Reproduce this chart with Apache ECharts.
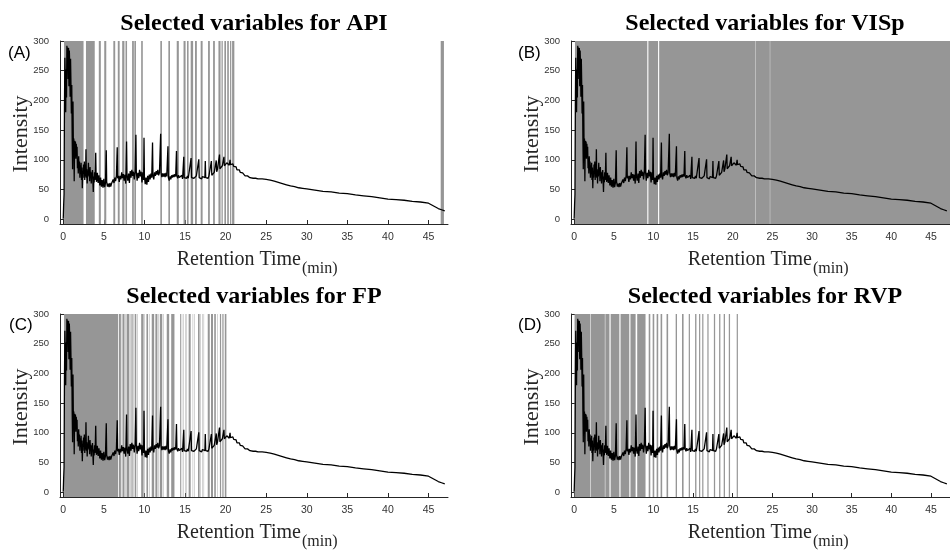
<!DOCTYPE html>
<html><head><meta charset="utf-8">
<script src="https://cdn.jsdelivr.net/npm/echarts@6/dist/echarts.min.js"></script>
<style>html,body{margin:0;padding:0;background:#fff}#c{width:950px;height:551px}</style>
</head><body><div id="c"></div>
<script>
const panelTitles = ['Selected variables for API','Selected variables for VISp','Selected variables for FP','Selected variables for RVP'];
const panelTags = ['(A)','(B)','(C)','(D)'];
const xAxisTitle = 'Retention Time';
const xAxisUnit = '(min)';
const yAxisTitle = 'Intensity';
const xTicks = [0,5,10,15,20,25,30,35,40,45];
const yTicks = [0,50,100,150,200,250,300];

// chromatogram [retention time (min), intensity]
const signal = [
[0,1],[0.05,24],[0.1,42],[0.15,190],[0.2,272],[0.25,228],[0.3,180],[0.35,252],[0.4,205],[0.45,292],[0.5,262],[0.55,289],[0.6,236],[0.65,288],[0.7,224],[0.75,284],[0.8,258],[0.85,206],[0.9,270],[0.95,228],
[1.0,178],[1.05,226],[1.1,138],[1.15,84],[1.2,198],[1.25,116],[1.3,136],[1.35,64],[1.4,132],[1.45,118],[1.5,131],[1.55,102],[1.6,127],[1.65,112],[1.7,122],[1.75,86],[1.8,101],[1.85,77],[1.9,106],[1.95,84],
[2.0,97],[2.05,70],[2.1,91],[2.15,76],[2.2,95],[2.25,66],[2.3,87],[2.35,52],[2.4,81],[2.45,70],[2.5,92],[2.55,76],[2.6,97],[2.65,66],[2.7,86],[2.75,72],[2.8,118],[2.85,70],[2.9,84],[2.95,60],
[3.0,80],[3.05,72],[3.1,95],[3.15,74],[3.2,86],[3.25,64],[3.3,88],[3.35,72],[3.4,80],[3.45,60],[3.5,78],[3.55,70],[3.6,83],[3.65,64],[3.7,46],[3.75,72],[3.8,62],[3.85,79],[3.9,66],[3.95,80],
[4.0,112],[4.05,70],[4.1,63],[4.2,78],[4.3,61],[4.4,74],[4.5,57],[4.6,70],[4.7,55],[4.8,66],[4.9,53],[5.0,68],[5.1,54],[5.2,61],[5.3,116],[5.35,63],[5.45,55],[5.55,60],[5.65,54],[5.75,61],[5.85,55],[5.95,60],
[6.05,57],[6.15,67],[6.25,61],[6.35,70],[6.45,64],[6.55,73],[6.65,121],[6.7,69],[6.8,73],[6.9,63],[7.0,73],[7.1,67],[7.2,79],[7.3,69],[7.4,76],[7.5,65],[7.6,75],[7.7,60],[7.8,131],[7.85,73],[7.95,65],
[8.05,77],[8.15,61],[8.25,81],[8.35,70],[8.45,83],[8.55,73],[8.65,80],[8.75,67],[8.85,79],[8.95,142],[9.0,80],[9.1,65],[9.2,78],[9.3,69],[9.4,83],[9.5,72],[9.6,80],[9.7,62],[9.8,79],[9.9,66],[9.95,137],
[10.0,72],[10.1,59],[10.2,70],[10.3,58],[10.4,73],[10.5,63],[10.6,75],[10.7,67],[10.8,77],[10.9,70],[11.0,129],[11.05,74],[11.15,67],[11.25,79],[11.35,73],[11.45,81],[11.55,75],[11.65,83],[11.75,74],[11.85,78],
[12.0,144],[12.05,78],[12.15,71],[12.25,77],[12.35,72],[12.45,77],[12.55,71],[12.65,78],[12.75,72],[12.85,75],[12.9,123],[12.95,70],[13.05,65],[13.15,72],[13.25,67],[13.35,74],[13.45,70],[13.55,75],[13.65,71],[13.75,76],[13.85,72],
[13.95,115],[14.0,73],[14.1,69],[14.2,74],[14.3,70],[14.4,73],[14.5,69],[14.6,74],[14.7,68],[14.85,105],[14.9,70],[15.0,67],[15.1,72],[15.2,69],[15.3,73],[15.4,69],[15.5,72],[15.6,70],[15.75,103],[15.8,70],[15.9,67],
[16.0,72],[16.1,69],[16.2,72],[16.3,69],[16.4,73],[16.5,70],[16.7,101],[16.75,70],[16.85,67],[16.95,71],[17.05,68],[17.15,72],[17.25,69],[17.35,73],[17.45,70],[17.5,98],[17.55,70],[17.65,67],[17.75,71],[17.85,69],[17.95,73],
[18.05,71],[18.15,75],[18.25,98],[18.3,74],[18.4,76],[18.5,74],[18.6,79],[18.7,77],[18.8,81],[18.85,99],[18.9,80],[19.0,84],[19.1,82],[19.2,86],[19.25,109],[19.3,85],[19.4,88],[19.5,86],[19.6,90],[19.7,88],[19.8,105],[19.85,90],[19.95,93],
[20.05,91],[20.15,95],[20.25,92],[20.35,94],[20.45,91],[20.55,100],[20.6,92],[20.7,94],[20.8,90],[20.9,93],[21.0,89],[21.1,91],[21.2,86],[21.3,88],[21.4,83],[21.5,85],[21.6,81],[21.7,83],[21.8,79],[21.9,80],
[22.0,77],[22.1,78],[22.2,75],[22.3,77],[22.4,73],[22.5,75],[22.6,72],[22.7,73],[22.8,71],[22.9,72],[23.0,70],[23.2,70],[23.4,69],[23.7,69],[24.0,68],[24.5,68],[25.0,67],[25.5,66],[26.0,64],[26.5,62],
[27.0,60],[27.5,58],[28.0,56],[28.5,55],[29.0,53],[29.5,52],[30.0,51],[31.0,49],[32.0,47],[33.0,46],[34.0,44],[35.0,43],[36.0,41],[37.0,39.5],[38.0,38],[39.0,36],[40.0,34],[41.0,33],[42.0,32],[43.0,30],[44.0,29],
[45.0,27],[45.4,24],[45.8,21],[46.2,18],[46.6,16],[47.0,14]
];

// selected variable ranges [start, end] in minutes
const selectedAPI = [[0.1,2.5],[2.8,3.88],[4.38,4.63],[5.05,5.3],[6.17,6.4],[6.72,6.95],[7.26,7.54],[7.67,7.86],[8.48,8.7],[8.76,8.96],[9.6,9.8],[11.96,12.16],[12.95,13.15],[13.98,14.24],[14.82,15.07],[15.25,15.44],[15.7,16.0],[16.23,16.46],[16.93,17.17],[17.84,18.06],[18.46,18.68],[19.12,19.38],[19.5,19.65],[19.85,20.05],[20.2,20.4],[20.55,20.7],[20.8,21.08],[46.5,46.9]];
const selectedVISp = [[0.1,9.22],[9.36,10.58],[10.72,22.88],[22.92,24.68],[24.72,47.4]];
const selectedFP = [[0.1,6.75],[6.85,7.1],[7.2,7.25],[7.3,7.55],[7.65,7.7],[7.8,8.15],[8.25,8.3],[8.4,8.55],[8.65,8.7],[8.8,9.0],[9.15,9.2],[9.6,9.9],[10.0,10.05],[10.25,10.45],[10.6,10.65],[10.9,11.2],[11.35,11.6],[11.7,11.75],[11.9,12.2],[12.35,12.4],[12.75,13.05],[13.3,13.7],[14.4,14.5],[14.6,14.65],[14.75,14.8],[15.0,15.05],[15.2,15.25],[15.45,15.7],[15.95,16.0],[16.15,16.2],[16.6,16.8],[16.9,16.95],[17.1,17.15],[17.3,17.35],[17.8,18.05],[18.2,18.45],[18.6,18.8],[18.95,19.0],[19.3,19.45],[19.6,19.75],[19.9,20.1]];
const selectedRVP = [[0.05,2.02],[2.08,3.87],[3.93,4.45],[4.6,5.7],[5.85,6.95],[7.1,7.75],[7.95,9.0],[9.4,9.6],[9.9,10.1],[10.4,10.6],[10.9,11.1],[11.65,11.85],[12.8,12.97],[13.6,13.8],[14.45,14.6],[15.25,15.42],[15.75,15.9],[16.15,16.3],[16.8,16.95],[17.62,17.78],[18.28,18.44],[18.86,19.02],[19.5,19.66],[20.5,20.65]];

const selections = [selectedAPI, selectedVISp, selectedFP, selectedRVP];

const SERIF = "'Liberation Serif','Times New Roman',serif";
const SANS = "'Liberation Sans',Arial,sans-serif";
const AX = '#262626';
const BAND = '#969696';
const panelPos = [{left:60, top:41},{left:571, top:41},{left:60, top:314},{left:571, top:314}];
const PW = 388, PH = 183;

const grid = [], xAxis = [], yAxis = [], series = [], graphic = [];
panelPos.forEach((p, i) => {
  grid.push({left:p.left, top:p.top, width:PW, height:PH, containLabel:false});
  xAxis.push({
    type:'value', gridIndex:i, min:-0.4, max:47.4, position:'bottom',
    axisLine:{show:true, onZero:false, lineStyle:{color:AX, width:1}},
    axisTick:{show:true, inside:true, length:4, customValues:xTicks, lineStyle:{color:AX, width:1}},
    axisLabel:{show:true, customValues:xTicks, fontSize:10.5, color:'#333', fontFamily:SANS, margin:8},
    splitLine:{show:false}
  });
  yAxis.push({
    type:'value', gridIndex:i, min:-8, max:300, position:'left',
    axisLine:{show:true, onZero:false, lineStyle:{color:AX, width:1}},
    axisTick:{show:true, inside:true, length:4, customValues:yTicks, lineStyle:{color:AX, width:1}},
    axisLabel:{show:true, customValues:yTicks, fontSize:9.5, color:'#333', fontFamily:SANS, margin:11},
    splitLine:{show:false}
  });
  series.push({
    type:'line', xAxisIndex:i, yAxisIndex:i, data:signal, showSymbol:false, symbol:'none',
    z:3, clip:true, silent:true, animation:false,
    lineStyle:{color:'#000', width:1.3},
    emphasis:{disabled:true},
    markArea:{
      silent:true, z:1, animation:false,
      itemStyle:{color:BAND, borderWidth:0},
      label:{show:false},
      emphasis:{disabled:true},
      data: selections[i].map(r => [{xAxis:r[0]},{xAxis:r[1]}])
    }
  });
  const ox = p.left - 60, oy = p.top - 41;
  graphic.push({type:'text', x:254+ox, y:24+oy, style:{text:panelTitles[i], font:'bold 24px '+SERIF, fill:'#000', textAlign:'center', textVerticalAlign:'middle'}});
  graphic.push({type:'text', x:[8,518,9,518][i], y:[53,53,325,325][i], style:{text:panelTags[i], font:'17px '+SANS, fill:'#000', textAlign:'left', textVerticalAlign:'middle'}});
  graphic.push({type:'text', x:301+ox, y:260+oy, style:{text:xAxisTitle, font:'20px '+SERIF, fill:AX, textAlign:'right', textVerticalAlign:'middle'}});
  graphic.push({type:'text', x:302+ox, y:269+oy, style:{text:xAxisUnit, font:'16px '+SERIF, fill:AX, textAlign:'left', textVerticalAlign:'middle'}});
  graphic.push({type:'text', x:21+ox, y:134+oy, rotation:Math.PI/2, style:{text:yAxisTitle, font:'22px '+SERIF, fill:AX, textAlign:'center', textVerticalAlign:'middle'}});
});

const chart = echarts.init(document.getElementById('c'), null, {renderer:'canvas'});
chart.setOption({animation:false, backgroundColor:'#fff', grid, xAxis, yAxis, series, graphic});
</script></body></html>
